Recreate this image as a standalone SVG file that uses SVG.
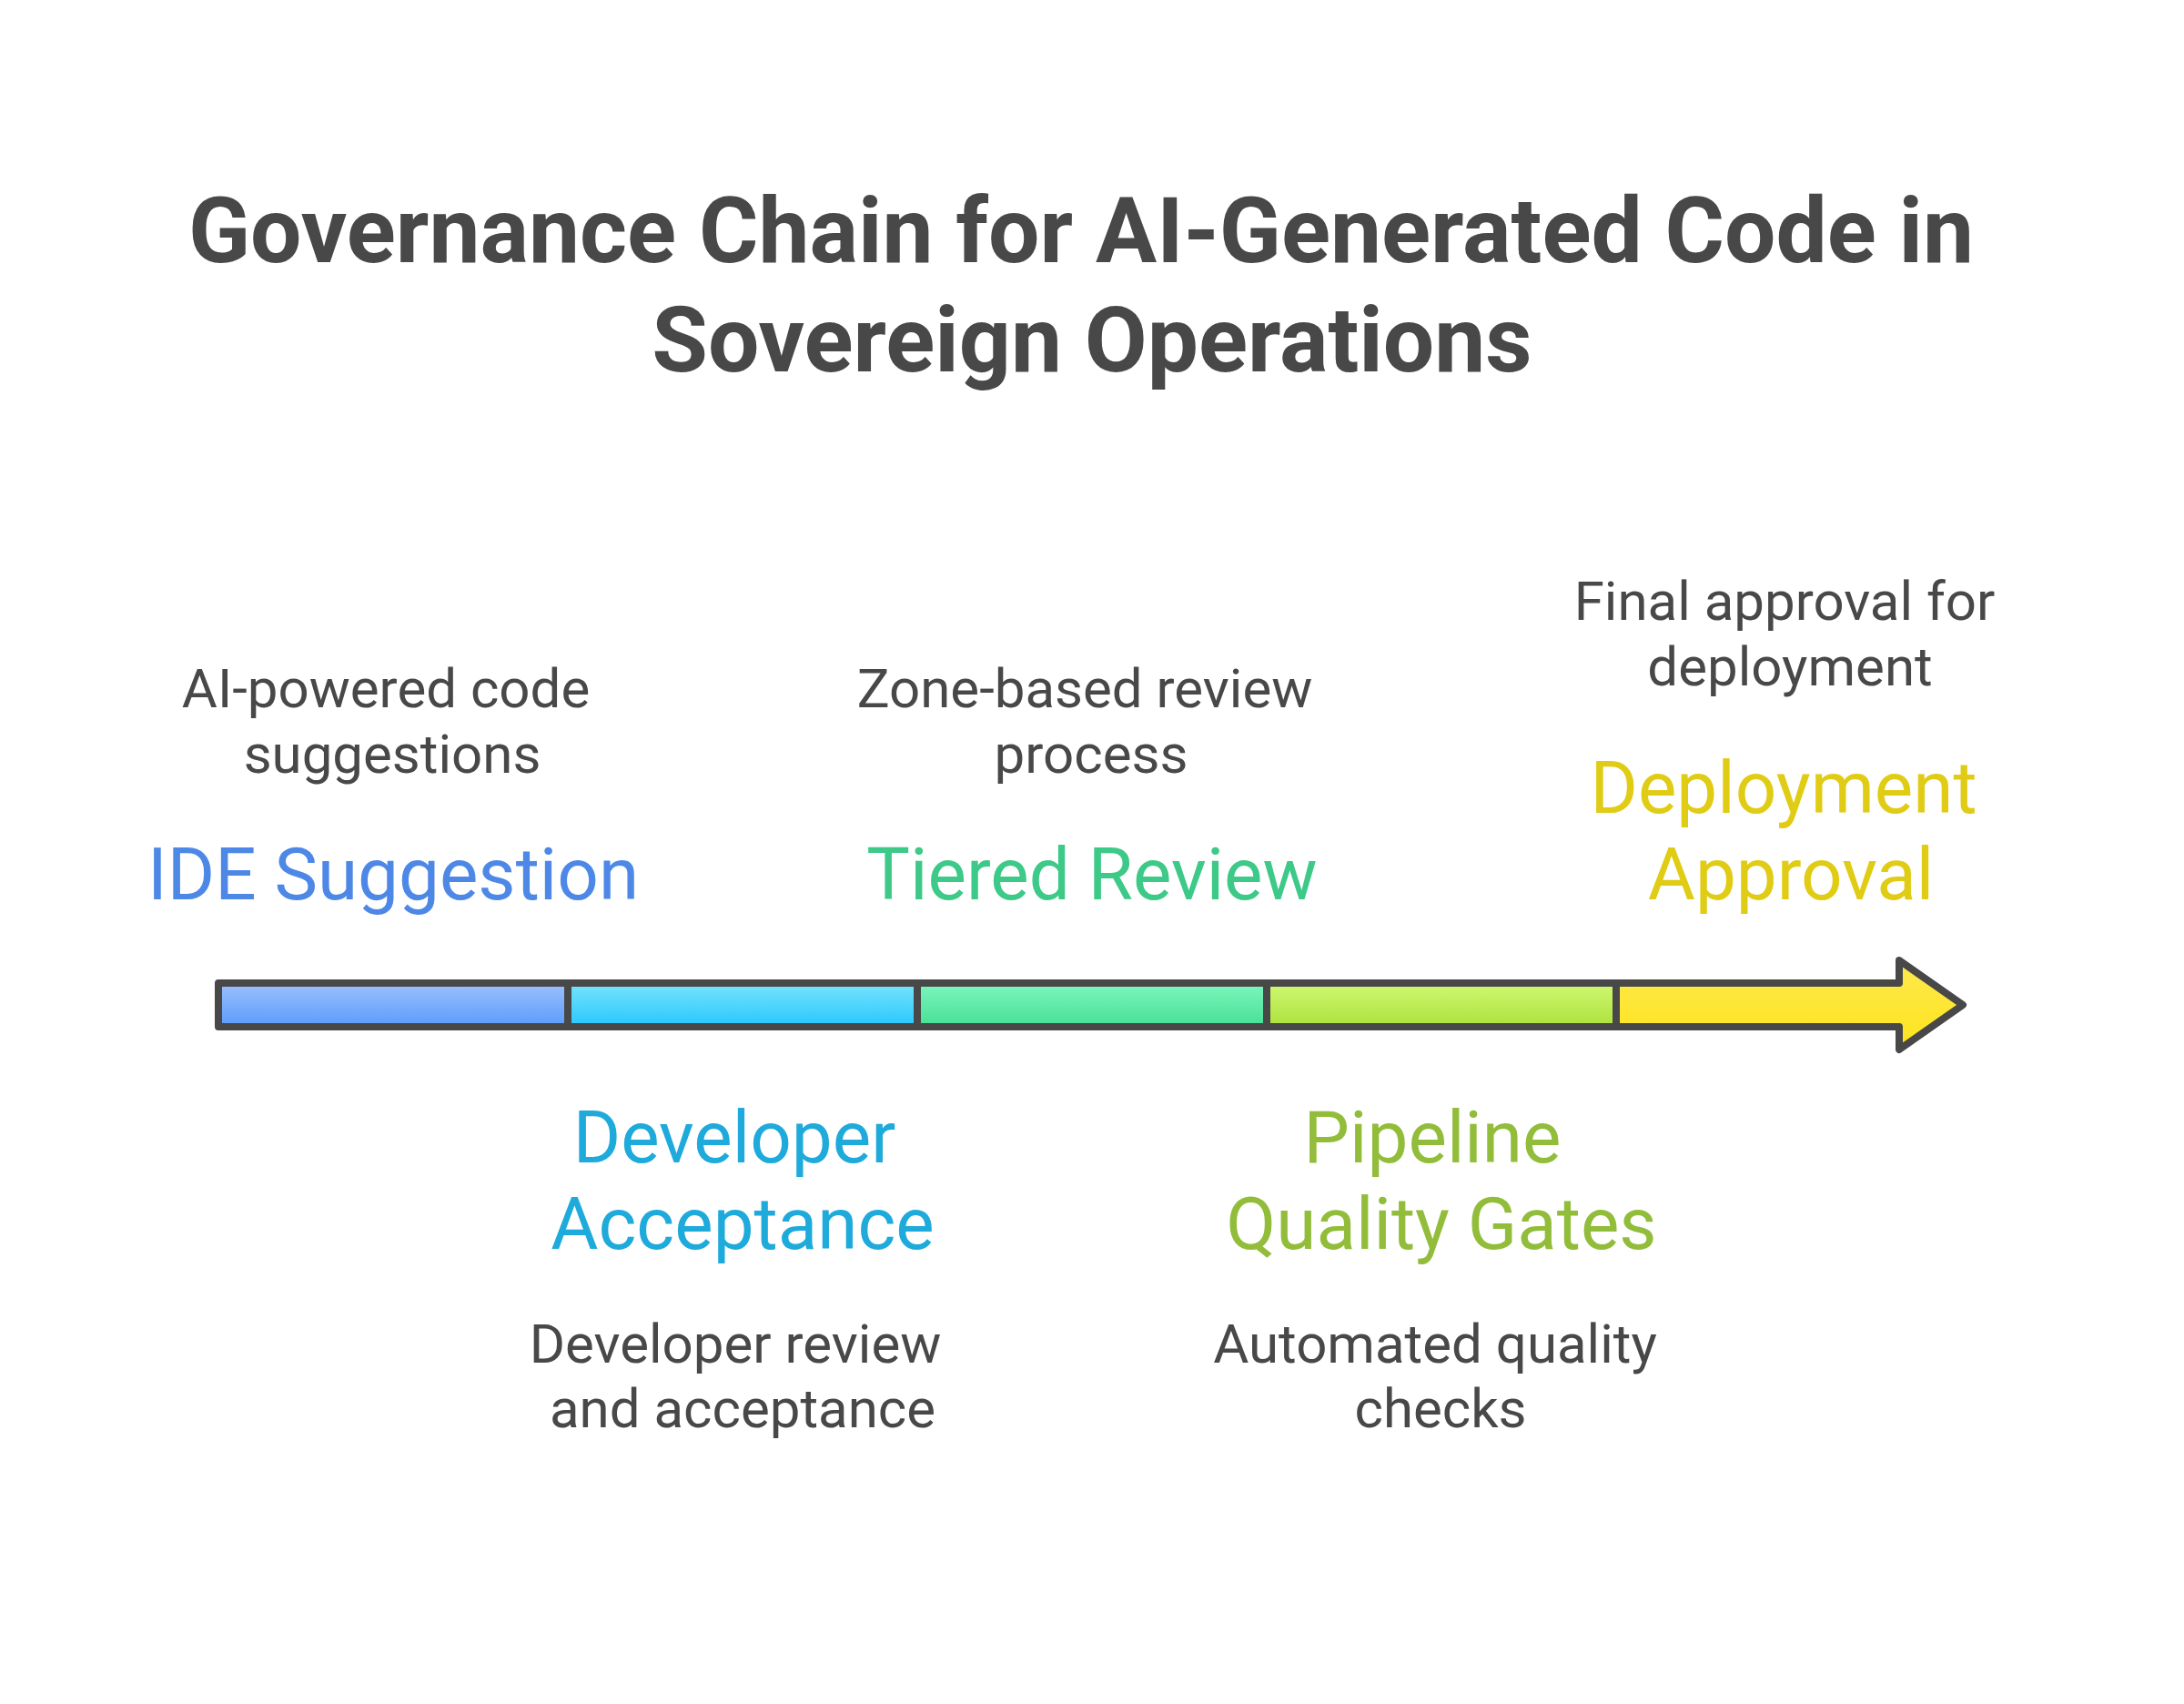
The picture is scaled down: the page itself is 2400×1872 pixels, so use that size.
<svg xmlns="http://www.w3.org/2000/svg" width="2400" height="1872" viewBox="0 0 2400 1872">
<style>
.title{font-family:Roboto,"Liberation Sans",sans-serif;font-weight:700;font-size:100px;fill:#484848;text-anchor:middle}
.lbl{font-family:Roboto,"Liberation Sans",sans-serif;font-size:80px;text-anchor:middle}
.desc{font-family:Roboto,"Liberation Sans",sans-serif;font-size:60px;fill:#484848;text-anchor:middle}
.seg{stroke:#484848;stroke-width:8;stroke-linejoin:round}
</style>
<defs>
<linearGradient id="gBlue" x1="0" y1="0" x2="0" y2="1"><stop offset="0" stop-color="#9cc0fc"/><stop offset="1" stop-color="#5a9bfc"/></linearGradient>
<linearGradient id="gCyan" x1="0" y1="0" x2="0" y2="1"><stop offset="0" stop-color="#78e3fd"/><stop offset="1" stop-color="#27c7fe"/></linearGradient>
<linearGradient id="gGreen" x1="0" y1="0" x2="0" y2="1"><stop offset="0" stop-color="#7df7be"/><stop offset="1" stop-color="#47df95"/></linearGradient>
<linearGradient id="gLime" x1="0" y1="0" x2="0" y2="1"><stop offset="0" stop-color="#cff972"/><stop offset="1" stop-color="#ace13c"/></linearGradient>
<linearGradient id="gYellow" x1="0" y1="0" x2="0" y2="1"><stop offset="0" stop-color="#fee94e"/><stop offset="1" stop-color="#fee41c"/></linearGradient>
</defs>
<rect width="2400" height="1872" fill="#ffffff"/>
<g id="title">
<text class="title" x="1188" y="288">Governance Chain for AI-Generated Code in</text>
<text class="title" x="1200" y="408">Sovereign Operations</text>
</g>
<g id="connectors">
<rect class="seg" x="240" y="1080" width="384" height="48" fill="url(#gBlue)"/>
<rect class="seg" x="624" y="1080" width="384" height="48" fill="url(#gCyan)"/>
<rect class="seg" x="1008" y="1080" width="384" height="48" fill="url(#gGreen)"/>
<rect class="seg" x="1392" y="1080" width="384" height="48" fill="url(#gLime)"/>
<path class="seg" d="M1776 1080 H2087 V1055 L2157 1104 L2087 1153 V1128 H1776 Z" fill="url(#gYellow)"/>
</g>
<g id="node-ide">
<text class="desc" x="424" y="777">AI-powered code</text>
<text class="desc" x="431" y="849">suggestions</text>
<text class="lbl" x="432" y="988" fill="#4e88e7">IDE Suggestion</text>
</g>
<g id="node-developer">
<text class="lbl" x="807" y="1277" fill="#1eaadb">Developer</text>
<text class="lbl" x="816" y="1372" fill="#1eaadb">Acceptance</text>
<text class="desc" x="808" y="1497">Developer review</text>
<text class="desc" x="816" y="1568">and acceptance</text>
</g>
<g id="node-tiered">
<text class="desc" x="1192" y="777">Zone-based review</text>
<text class="desc" x="1199" y="849">process</text>
<text class="lbl" x="1200" y="988" fill="#3dc987">Tiered Review</text>
</g>
<g id="node-pipeline">
<text class="lbl" x="1574" y="1277" fill="#92bd3a">Pipeline</text>
<text class="lbl" x="1584" y="1372" fill="#92bd3a">Quality Gates</text>
<text class="desc" x="1577" y="1497">Automated quality</text>
<text class="desc" x="1583" y="1568">checks</text>
</g>
<g id="node-deployment">
<text class="desc" x="1961" y="681">Final approval for</text>
<text class="desc" x="1967" y="753">deployment</text>
<text class="lbl" x="1960" y="893" fill="#e0cc14">Deployment</text>
<text class="lbl" x="1968" y="988" fill="#e0cc14">Approval</text>
</g>
</svg>
